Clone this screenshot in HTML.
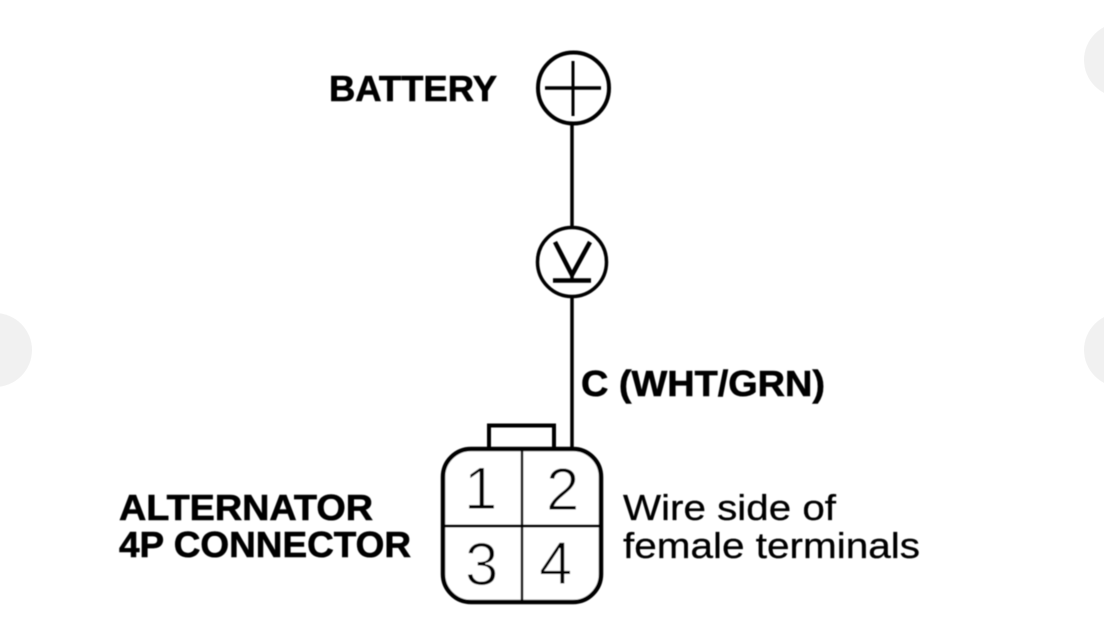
<!DOCTYPE html>
<html><head><meta charset="utf-8"><style>
html,body{margin:0;padding:0;background:#fff;width:1104px;height:635px;overflow:hidden}
svg{display:block}
text{font-family:"Liberation Sans",sans-serif;fill:#000}
.b{font-weight:bold;font-size:36px;stroke:#000;stroke-width:.6px}
.r{font-size:36px;stroke:#000;stroke-width:.3px}
.d{font-size:60px;stroke:#fff;stroke-width:1.1px}
</style></head><body>
<svg width="1104" height="635" viewBox="0 0 1104 635" xmlns="http://www.w3.org/2000/svg">
<defs><filter id="s" filterUnits="userSpaceOnUse" x="0" y="0" width="1104" height="635"><feGaussianBlur stdDeviation="0.5"/></filter></defs>
<circle cx="-5" cy="350" r="37" fill="#f1f1f1"/>
<circle cx="1121" cy="60" r="37" fill="#f1f1f1"/>
<circle cx="1121" cy="350" r="37" fill="#f1f1f1"/>
<g filter="url(#s)">
<g fill="none" stroke="#000" stroke-linecap="butt">
<circle cx="573.500" cy="88" r="35.500" stroke-width="4"/>
<path d="M545 88H601" stroke-width="3.500"/>
<path d="M573 61V116" stroke-width="3"/>
<path d="M572 124V228" stroke-width="3.500"/>
<circle cx="572" cy="262" r="34.500" stroke-width="3.500"/>
<path d="M555 242L572 275L590 242" stroke-width="4.500"/>
<path d="M553 280.500H591" stroke-width="4.500"/>
<path d="M572 274V281" stroke-width="3.500"/>
<path d="M572 297V449" stroke-width="3.500"/>
<path d="M489 449V425.500H554V449" stroke-width="4"/>
<rect x="443" y="449" width="158" height="153" rx="28" ry="28" fill="#fff" stroke-width="4.500"/>
<path d="M522 450V601" stroke-width="2.500"/>
<path d="M444 526H600" stroke-width="3"/>
</g>
<text class="b" x="329" y="101" textLength="168" lengthAdjust="spacingAndGlyphs">BATTERY</text>
<text class="b" x="581" y="396" textLength="244" lengthAdjust="spacingAndGlyphs">C (WHT/GRN)</text>
<text class="b" x="119" y="520" textLength="254" lengthAdjust="spacingAndGlyphs">ALTERNATOR</text>
<text class="b" x="119" y="557" textLength="292" lengthAdjust="spacingAndGlyphs">4P CONNECTOR</text>
<text class="r" x="623" y="520" textLength="213" lengthAdjust="spacingAndGlyphs">Wire side of</text>
<text class="r" x="623" y="558" textLength="297" lengthAdjust="spacingAndGlyphs">female terminals</text>
<text class="d" x="464" y="509">1</text>
<text class="d" x="546" y="510">2</text>
<text class="d" x="465" y="585">3</text>
<text class="d" x="539" y="584">4</text>
</g>
</svg>
</body></html>
